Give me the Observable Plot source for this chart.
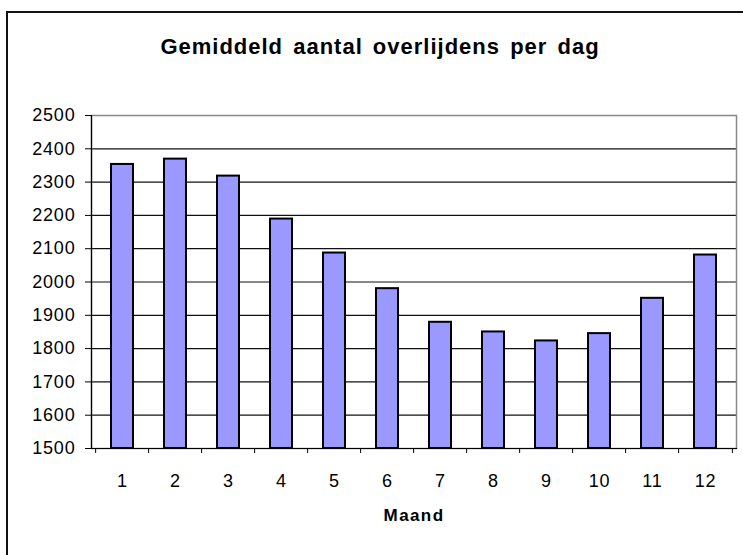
<!DOCTYPE html>
<html><head><meta charset="utf-8">
<script src="https://cdn.jsdelivr.net/npm/d3@7"></script>
<script src="https://cdn.jsdelivr.net/npm/@observablehq/plot@0.6"></script>
<style>
body{margin:0;background:#fff;}
#wrap{position:relative;width:743px;height:555px;overflow:hidden;font-family:"Liberation Sans",Arial,sans-serif;}
#border{position:absolute;left:6px;top:11px;width:900px;height:900px;border:2px solid #111;}
#title{position:absolute;left:0;top:33px;width:760px;text-align:center;font-weight:bold;font-size:22px;line-height:28px;letter-spacing:1px;word-spacing:3px;}
#chart{position:absolute;left:0;top:0;}
#chart g[aria-label="x-axis label"] text{font-weight:bold;letter-spacing:1.4px;font-size:17px;}
#chart g[aria-label="y-axis tick label"] text,#chart g[aria-label="x-axis tick label"] text{letter-spacing:0.8px;}
</style></head><body>
<div id="wrap"><div id="border"></div><div id="title"></div><div id="chart"></div></div>
<script>
const chartTitle = "Gemiddeld aantal overlijdens per dag";
const xLabel = "Maand";
const months = [1, 2, 3, 4, 5, 6, 7, 8, 9, 10, 11, 12];
const deaths = [2353, 2369, 2318, 2189, 2087, 1980, 1879, 1850, 1823, 1845, 1951, 2081];
const yTicks = [1500, 1600, 1700, 1800, 1900, 2000, 2100, 2200, 2300, 2400, 2500];

const data = months.map((m, i) => ({month: m, value: deaths[i]}));
document.getElementById("title").textContent = chartTitle;

const W = 743, H = 555, mL = 91, mR = 7, mT = 115, mB = 107;
const step = (W - mL - mR) / months.length;

const plot = Plot.plot({
  width: W, height: H,
  marginLeft: mL, marginRight: mR, marginTop: mT, marginBottom: mB,
  style: {fontFamily: "Liberation Sans, Arial, sans-serif", fontSize: "18px", color: "#000", background: "transparent", overflow: "visible"},
  x: {type: "band", domain: months, paddingInner: 0.58, paddingOuter: 0.29, align: 0.5},
  y: {domain: [yTicks[0], yTicks[yTicks.length - 1]]},
  marks: [
    Plot.ruleY(yTicks, {stroke: "#111", strokeWidth: 1.2}),
    Plot.frame({stroke: "#888", strokeWidth: 1.5}),
    Plot.barY(data, {x: "month", y1: yTicks[0], y2: "value", fill: "#9999FF", stroke: "#000", strokeWidth: 2}),
    Plot.frame({anchor: "left", stroke: "#000", strokeWidth: 1.2}),
    Plot.frame({anchor: "bottom", stroke: "#000", strokeWidth: 1.2}),
    Plot.axisY({ticks: yTicks, tickFormat: "d", tickSize: 6, tickPadding: 10, fontSize: 18, label: null}),
    Plot.axisX({tickSize: 0, tickPadding: 26, fontSize: 18, label: xLabel, labelAnchor: "center", labelOffset: 72}),
    Plot.axisX({tickSize: 5, tickFormat: () => "", dx: -step / 2, label: null}),
    Plot.axisX({ticks: [months[months.length - 1]], tickSize: 5, tickFormat: () => "", dx: step / 2, label: null})
  ]
});
document.getElementById("chart").appendChild(plot);
</script>
</body></html>
